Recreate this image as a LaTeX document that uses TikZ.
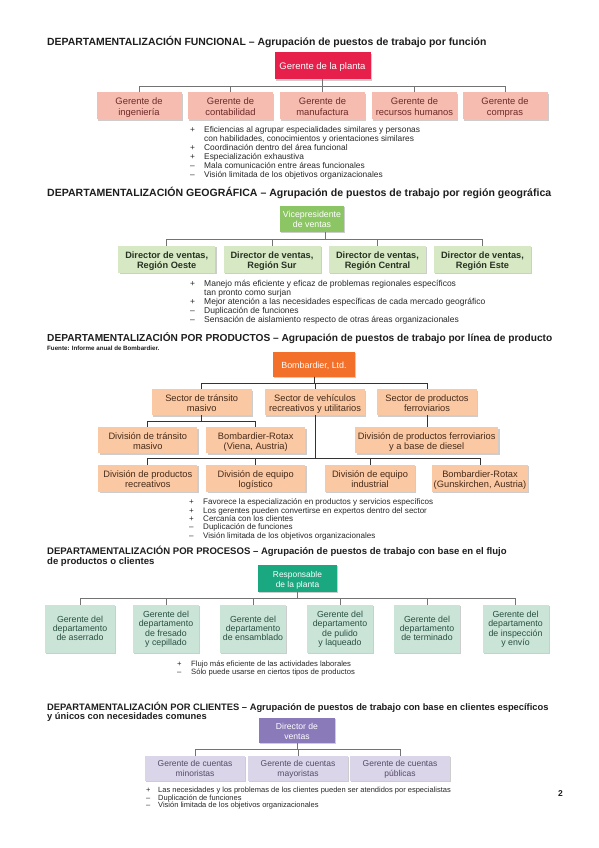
\documentclass[tikz,border=0pt]{standalone}
\usepackage{fontspec}
\setmainfont{Liberation Sans}
\usetikzlibrary{shadows,calc}
\definecolor{crimson}{RGB}{230,32,74}
\definecolor{pinkbox}{RGB}{246,188,176}
\definecolor{pinktxt}{RGB}{110,42,42}
\definecolor{vgreen}{RGB}{140,198,100}
\definecolor{lgreen}{RGB}{214,232,196}
\definecolor{gtxt}{RGB}{40,50,35}
\definecolor{borange}{RGB}{242,112,42}
\definecolor{peach}{RGB}{250,201,163}
\definecolor{otxt}{RGB}{70,42,25}
\definecolor{bteal}{RGB}{25,168,128}
\definecolor{mint}{RGB}{202,228,216}
\definecolor{ttxt}{RGB}{40,80,65}
\definecolor{bpurple}{RGB}{138,122,186}
\definecolor{lav}{RGB}{218,213,232}
\definecolor{ptxt}{RGB}{85,75,105}
\definecolor{linegray}{RGB}{115,115,115}
\definecolor{bodytxt}{RGB}{40,40,40}
\definecolor{titletxt}{RGB}{30,30,30}
\tikzset{
  box/.style={rectangle, inner sep=0pt, outer sep=0pt,
    drop shadow={shadow xshift=1.4pt, shadow yshift=-1.4pt, opacity=0.28, fill=black!70}},
  conn/.style={draw=linegray, line width=0.7pt},
  connd/.style={draw=black!80, line width=0.8pt},
  ttl/.style={anchor=base west, inner sep=0pt, text=titletxt},
  bul/.style={anchor=base west, inner sep=0pt, text=bodytxt},
  topbox/.style={box, text=white, font=\fontsize{9.5}{10.5}\selectfont},
  fbox/.style={box, fill=pinkbox, text=pinktxt, minimum width=85pt, minimum height=27pt, font=\fontsize{9.4}{10.3}\selectfont},
  gbox/.style={box, fill=lgreen, text=gtxt, minimum width=97pt, minimum height=27pt, font=\fontsize{9.2}{10.3}\selectfont\bfseries},
  obox/.style={box, fill=peach, text=otxt, minimum height=26pt, font=\fontsize{9.3}{10}\selectfont},
  tbox/.style={box, fill=mint, text=ttxt, minimum width=66pt, minimum height=48pt, font=\fontsize{8.8}{9.2}\selectfont},
  lbox/.style={box, fill=lav, text=ptxt, minimum width=100pt, minimum height=25pt, font=\fontsize{8.5}{9.6}\selectfont}
}
\newcommand{\bx}[2][-1.8pt]{\raisebox{#1}[\height][\depth]{\begin{tabular}{@{}c@{}}#2\end{tabular}}}
\newcommand{\bullets}[1]{\begin{tabular}[t]{@{}p{14pt}@{}l@{}}#1\end{tabular}}
\begin{document}
\begin{tikzpicture}[x=1pt,y=-1pt]
\fill[white] (0,0) rectangle (599,848);

% ---------- Section 1 ----------
\node[ttl, font=\fontsize{10.43}{11}\selectfont\bfseries] (t1) at (47,45.5) {DEPARTAMENTALIZACIÓN FUNCIONAL – Agrupación de puestos de trabajo por función};
\node[topbox, fill=crimson, minimum width=96pt, minimum height=27pt] (gp) at (322.5,66) {\bx{Gerente de la planta}};
\node[fbox] (g1) at (139,106) {\bx{Gerente de\\ingeniería}};
\node[fbox] (g2) at (230.5,106) {\bx{Gerente de\\contabilidad}};
\node[fbox] (g3) at (322.5,106) {\bx{Gerente de\\manufactura}};
\node[fbox] (g4) at (414.5,106) {\bx{Gerente de\\recursos humanos}};
\node[fbox] (g5) at (505,106) {\bx{Gerente de\\compras}};
\foreach \c in {g1,g2,g3,g4,g5} \draw[conn] (gp.south) -- ++(0,6.5) -| (\c.north);
\node[bul, font=\fontsize{8.35}{9}\selectfont] (b1) at (190,132.5) {\bullets{
+ & Eficiencias al agrupar especialidades similares y personas\\
  & con habilidades, conocimientos y orientaciones similares\\
+ & Coordinación dentro del área funcional\\
+ & Especialización exhaustiva\\
– & Mala comunicación entre áreas funcionales\\
– & Visión limitada de los objetivos organizacionales}};

% ---------- Section 2 ----------
\node[ttl, font=\fontsize{10.55}{11}\selectfont\bfseries] (t2) at (47,196) {DEPARTAMENTALIZACIÓN GEOGRÁFICA – Agrupación de puestos de trabajo por región geográfica};
\node[topbox, fill=vgreen, minimum width=64pt, minimum height=26pt, font=\fontsize{8.8}{10.2}\selectfont] (vp) at (312,219) {\bx{Vicepresidente\\de ventas}};
\node[gbox] (r1) at (166.7,259.5) {\bx{Director de ventas,\\Región Oeste}};
\node[gbox] (r2) at (272,259.5) {\bx{Director de ventas,\\Región Sur}};
\node[gbox] (r3) at (377.5,259.5) {\bx{Director de ventas,\\Región Central}};
\node[gbox] (r4) at (482.5,259.5) {\bx{Director de ventas,\\Región Este}};
\foreach \c in {r1,r2,r3,r4} \draw[conn] ([xshift=13pt]vp.south) -- ++(0,7.3) -| (\c.north);
\node[bul, font=\fontsize{8.5}{9}\selectfont] (b2) at (190,286.8) {\bullets{
+ & Manejo más eficiente y eficaz de problemas regionales específicos\\
  & tan pronto como surjan\\
+ & Mejor atención a las necesidades específicas de cada mercado geográfico\\
– & Duplicación de funciones\\
– & Sensación de aislamiento respecto de otras áreas organizacionales}};

% ---------- Section 3 ----------
\node[ttl, font=\fontsize{10.15}{11}\selectfont\bfseries] (t3) at (47,341.5) {DEPARTAMENTALIZACIÓN POR PRODUCTOS – Agrupación de puestos de trabajo por línea de producto};
\node[bul, text=titletxt, font=\fontsize{6.2}{7}\selectfont\bfseries] (src) at (47,350.5) {Fuente: Informe anual de Bombardier.};
\node[topbox, fill=borange, minimum width=82pt, minimum height=25pt, font=\fontsize{8.9}{10}\selectfont] (bom) at (314,364.2) {\bx{Bombardier, Ltd.}};
\node[obox, minimum width=100pt] (s1) at (201.7,402.2) {\bx{Sector de tránsito\\masivo}};
\node[obox, minimum width=100pt] (s2) at (315,402.2) {\bx{Sector de vehículos\\recreativos y utilitarios}};
\node[obox, minimum width=100pt] (s3) at (427,402.2) {\bx{Sector de productos\\ferroviarios}};
\foreach \c in {s1,s2,s3} \draw[connd] (bom.south) -- ++(0,6.6) -| (\c.north);
\node[obox, minimum width=99pt] (d1) at (147.8,440.3) {\bx{División de tránsito\\masivo}};
\node[obox, minimum width=99pt] (d2) at (255.7,440.3) {\bx{Bombardier-Rotax\\(Viena, Austria)}};
\node[obox, minimum width=143pt] (d3) at (426.7,440.3) {\bx{División de productos ferroviarios\\y a base de diesel}};
\foreach \c in {d1,d2} \draw[connd] (s1.south) -- ++(0,6) -| (\c.north);
\draw[connd] (s3.south) -- (s3.south |- d3.north);
\node[obox, minimum width=99pt, minimum height=26.7pt] (e1) at (147.8,478.3) {\bx{División de productos\\recreativos}};
\node[obox, minimum width=99pt, minimum height=26.7pt] (e2) at (255.7,478.3) {\bx{División de equipo\\logístico}};
\node[obox, minimum width=90pt, minimum height=26.7pt] (e3) at (370,478.3) {\bx{División de equipo\\industrial}};
\node[obox, minimum width=96pt, minimum height=26.7pt] (e4) at (480,478.3) {\bx{Bombardier-Rotax\\(Gunskirchen, Austria)}};
\foreach \c in {e1,e2,e3,e4} \draw[connd] (s2.south) -- ++(0,43.3) -| (\c.north);
\node[bul, font=\fontsize{8.05}{8.2}\selectfont] (b3) at (189,504.8) {\bullets{
+ & Favorece la especialización en productos y servicios específicos\\
+ & Los gerentes pueden convertirse en expertos dentro del sector\\
+ & Cercanía con los clientes\\
– & Duplicación de funciones\\
– & Visión limitada de los objetivos organizacionales}};

% ---------- Section 4 ----------
\node[ttl, font=\fontsize{9.55}{10.4}\selectfont\bfseries] (t4) at (47,554) {\begin{tabular}[t]{@{}l@{}}DEPARTAMENTALIZACIÓN POR PROCESOS – Agrupación de puestos de trabajo con base en el flujo\\de productos o clientes\end{tabular}};
\node[topbox, fill=bteal, minimum width=79pt, minimum height=27pt, font=\fontsize{8.4}{10}\selectfont] (rp) at (297.5,578.5) {\bx{Responsable\\de la planta}};
\node[tbox, minimum width=70pt] (p1) at (80,629) {\bx[-0.6pt]{Gerente del\\departamento\\de aserrado}};
\node[tbox] (p2) at (166,629) {\bx[-0.6pt]{Gerente del\\departamento\\de fresado\\y cepillado}};
\node[tbox] (p3) at (253,629) {\bx[-0.6pt]{Gerente del\\departamento\\de ensamblado}};
\node[tbox] (p4) at (340,629) {\bx[-0.6pt]{Gerente del\\departamento\\de pulido\\y laqueado}};
\node[tbox] (p5) at (427,629) {\bx[-0.6pt]{Gerente del\\departamento\\de terminado}};
\node[tbox] (p6) at (515.5,629) {\bx[-0.6pt]{Gerente del\\departamento\\de inspección\\y envío}};
\foreach \c in {p1,p2,p3,p4,p5,p6} \draw[conn] (rp.south) -- ++(0,6.3) -| (\c.north);
\node[bul, font=\fontsize{7.65}{8}\selectfont] (b4) at (177,666.5) {\bullets{
+ & Flujo más eficiente de las actividades laborales\\
– & Sólo puede usarse en ciertos tipos de productos}};

% ---------- Section 5 ----------
\node[ttl, font=\fontsize{9.35}{8.8}\selectfont\bfseries] (t5) at (47,710.3) {\begin{tabular}[t]{@{}l@{}}DEPARTAMENTALIZACIÓN POR CLIENTES – Agrupación de puestos de trabajo con base en clientes específicos\\y únicos con necesidades comunes\end{tabular}};
\node[topbox, fill=bpurple, minimum width=76pt, minimum height=25pt, font=\fontsize{8.6}{10}\selectfont] (dv) at (297,730.5) {\bx{Director de\\ventas}};
\node[lbox] (c1) at (195,768) {\bx{Gerente de cuentas\\minoristas}};
\node[lbox] (c2) at (298,768) {\bx{Gerente de cuentas\\mayoristas}};
\node[lbox] (c3) at (400,768) {\bx{Gerente de cuentas\\públicas}};
\foreach \c in {c1,c2,c3} \draw[conn] (dv.south) -- ++(0,6.5) -| (\c.north);
\node[bul, font=\fontsize{7.5}{7.4}\selectfont] (b5) at (146,792.3) {\begin{tabular}[t]{@{}p{12pt}@{}l@{}}
+ & Las necesidades y los problemas de los clientes pueden ser atendidos por especialistas\\
– & Duplicación de funciones\\
– & Visión limitada de los objetivos organizacionales\end{tabular}};

\node[bul, text=titletxt, font=\fontsize{8.5}{9}\selectfont\bfseries] (pg) at (558,796) {2};
\end{tikzpicture}
\end{document}
